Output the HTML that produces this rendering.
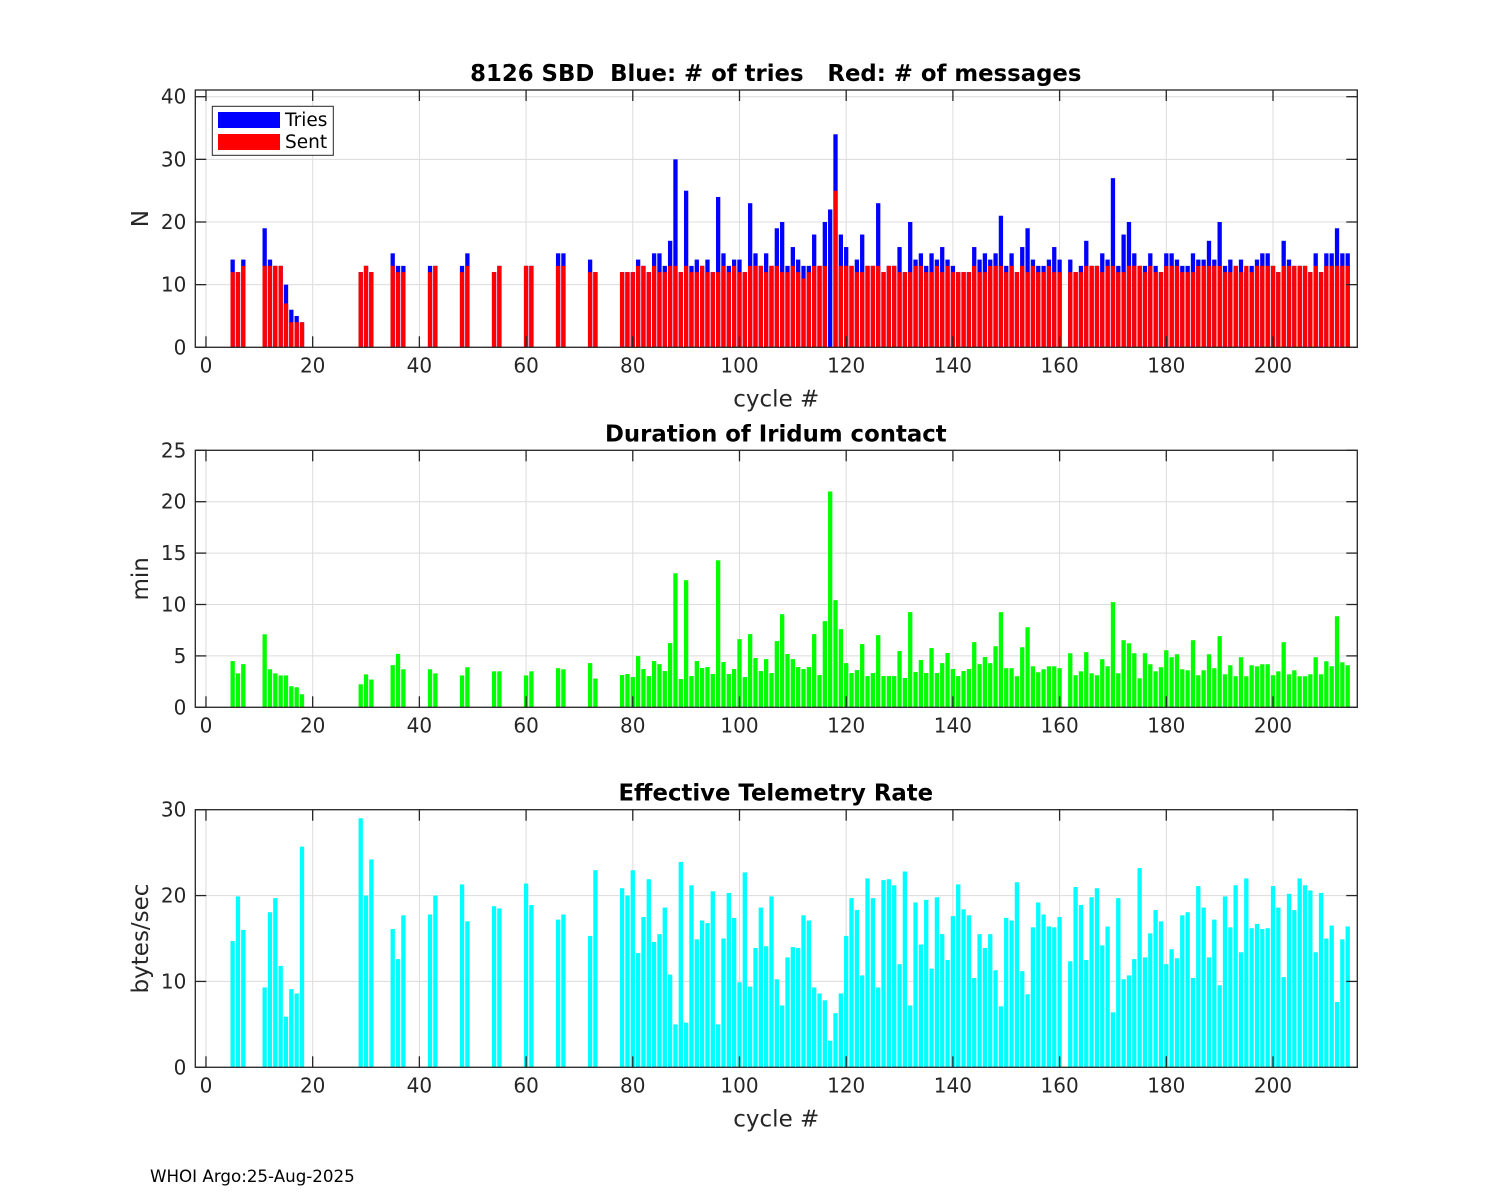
<!DOCTYPE html>
<html><head><meta charset="utf-8"><style>
body{margin:0;background:#fff;}
svg{display:block;font-family:"DejaVu Sans","Liberation Sans",sans-serif;}
text{white-space:pre;}
</style></head><body>
<svg id="chart" width="1500" height="1200" xmlns="http://www.w3.org/2000/svg" xml:space="preserve"></svg>
<script>
const cycles=[5,6,7,11,12,13,14,15,16,17,18,29,30,31,35,36,37,42,43,48,49,54,55,60,61,66,67,72,73,
78,79,80,81,82,83,84,85,86,87,88,89,90,91,92,93,94,95,96,97,98,99,100,101,102,103,104,105,106,107,108,109,110,111,112,113,114,115,116,117,118,119,120,121,122,123,124,125,126,127,128,129,130,131,132,133,134,135,136,137,138,139,140,141,142,143,144,145,146,147,148,149,150,151,152,153,154,155,156,157,158,159,160,
162,163,164,165,166,167,168,169,170,171,172,173,174,175,176,177,178,179,180,181,182,183,184,185,186,187,188,189,190,191,192,193,194,195,196,197,198,199,200,201,202,203,204,205,206,207,208,209,210,211,212,213,214];
const tries=[14,12,14,19,14,13,13,10,6,5,4,12,13,12,15,13,13,13,13,13,15,12,13,13,13,15,15,14,12,
12,12,12,14,13,12,15,15,13,17,30,12,25,13,14,13,14,12,24,15,13,14,14,12,23,15,13,15,13,19,20,13,16,14,13,13,18,13,20,22,34,18,16,13,14,18,13,13,23,12,13,13,16,12,20,14,15,13,15,14,16,14,13,12,12,12,16,14,15,14,15,21,13,15,12,16,19,14,13,13,14,16,14,
14,12,13,17,13,13,15,14,27,13,18,20,15,13,13,15,13,12,15,15,14,13,13,15,14,14,17,14,20,13,14,13,14,12,13,14,15,15,13,12,17,14,13,13,13,12,15,12,15,15,19,15,15];
const sent=[12,12,13,13,13,13,13,7,4,4,4,12,13,12,13,12,12,12,13,12,13,12,13,13,13,13,13,12,12,
12,12,12,13,13,12,13,12,12,13,13,12,13,12,12,13,12,12,12,13,12,13,12,12,13,13,13,12,13,13,12,12,13,12,11,12,13,13,13,0,25,13,13,13,12,12,13,13,13,12,13,13,12,12,12,13,13,12,12,13,12,13,12,12,12,12,13,12,12,13,13,13,12,13,12,13,12,13,12,12,13,12,12,
12,12,12,13,13,13,12,13,13,12,12,13,13,13,12,13,12,12,13,13,13,12,12,12,13,13,13,13,13,12,12,13,12,13,12,13,13,13,13,12,13,13,13,13,13,12,13,12,13,13,13,13,13];
const duration=[4.5,3.3,4.2,7.1,3.7,3.3,3.1,3.1,2.05,1.95,1.27,2.24,3.2,2.7,4.1,5.2,3.7,3.7,3.3,3.1,3.9,3.5,3.5,3.1,3.5,3.8,3.7,4.3,2.8,
3.14,3.24,2.94,4.98,3.72,3.04,4.5,4.2,3.53,6.25,13.04,2.75,12.36,3.04,4.5,3.82,3.92,3.24,14.3,4.4,3.24,3.72,6.63,2.94,7.12,4.79,3.53,4.69,3.33,6.44,9.06,5.18,4.69,3.92,3.72,3.92,7.12,3.14,8.38,21.0,10.42,7.6,4.3,3.33,3.62,6.15,3.04,3.33,7.02,3.04,3.04,3.04,5.47,2.85,9.26,3.43,4.6,3.33,5.76,3.33,4.3,5.28,3.72,3.04,3.53,3.72,6.34,4.2,4.89,4.3,5.94,9.25,3.8,3.8,3.02,5.84,7.79,3.99,3.41,3.7,3.99,3.99,3.8,
5.26,3.12,3.5,5.36,3.31,3.12,4.68,3.99,10.23,3.31,6.53,6.23,5.26,2.82,5.26,4.19,3.5,3.9,5.55,4.87,5.16,3.7,3.6,6.53,3.12,3.6,5.16,3.8,6.92,3.21,4.09,3.02,4.87,3.02,4.09,3.99,4.19,4.19,3.12,3.5,6.33,3.21,3.6,3.02,3.02,3.21,4.87,3.21,4.48,3.99,8.86,4.38,4.09];
const rate=[14.7,19.9,16.0,9.3,18.06,19.7,11.8,5.9,9.1,8.6,25.7,29.0,20.0,24.2,16.1,12.6,17.7,17.8,20.0,21.3,17.0,18.76,18.5,21.4,18.9,17.2,17.8,15.3,22.95,
20.85,20.0,22.95,13.3,17.5,21.9,14.6,15.5,18.6,10.8,5.0,23.9,5.2,21.2,14.9,17.1,16.8,20.5,5.0,15.0,20.3,17.4,9.9,22.7,9.4,13.9,18.6,14.1,19.9,10.25,7.2,12.8,14.0,13.9,17.7,17.1,9.3,8.6,7.8,3.1,6.3,8.6,15.3,19.7,18.3,10.7,22.0,19.7,9.3,21.8,21.9,21.2,12.0,22.8,7.2,19.2,14.3,19.5,11.5,19.8,15.5,12.5,17.6,21.3,18.4,17.7,10.4,15.5,13.9,15.5,11.3,7.1,17.4,17.1,21.55,11.2,8.5,16.3,19.2,17.8,16.4,16.3,17.5,
12.35,21.0,18.9,12.5,19.8,20.85,14.2,16.4,6.4,19.7,10.25,10.7,12.6,23.2,12.8,15.6,18.3,17.0,12.0,13.75,12.7,17.7,18.06,10.4,21.1,18.6,12.8,17.2,9.55,19.9,16.3,21.2,13.4,22.0,16.2,16.7,16.1,16.2,21.1,18.6,10.5,20.2,18.3,22.0,21.2,20.6,13.4,20.3,15.0,16.5,7.6,14.9,16.4];
const xTicks=[0,20,40,60,80,100,120,140,160,180,200];

const NS="http://www.w3.org/2000/svg";
const svg=document.getElementById('chart');
function mk(tag,attrs,parent,text){const e=document.createElementNS(NS,tag);for(const k in attrs)e.setAttribute(k,attrs[k]);if(text!==undefined)e.textContent=text;(parent||svg).appendChild(e);return e;}
const L=195.3,R=1357.3,XMIN=-2,XMAX=215.8;
function xs(v){return L+(v-XMIN)*(R-L)/(XMAX-XMIN);}
const BW=4.3;

function panel(key,top,bottom,ymax,yTicks,title,ylabel,showX){
  const g=mk('g',{});
  
  
  const ys=v=>bottom-v*(bottom-top)/ymax;
  mk('rect',{x:L,y:top,width:R-L,height:bottom-top,fill:'#fff'},g);
  const grid=mk('g',{stroke:'#dcdcdc','stroke-width':1},g);
  
  
  xTicks.forEach(t=>mk('line',{x1:xs(t),x2:xs(t),y1:top,y2:bottom},grid));
  yTicks.forEach(t=>mk('line',{x1:L,x2:R,y1:ys(t),y2:ys(t)},grid));
  return {g,ys,finish:function(){
    const ax=mk('g',{stroke:'#262626','stroke-width':1.3,fill:'none'},g);
    
    
    mk('rect',{x:L,y:top,width:R-L,height:bottom-top},ax);
    xTicks.forEach(t=>{mk('line',{x1:xs(t),x2:xs(t),y1:bottom,y2:bottom-11},ax);mk('line',{x1:xs(t),x2:xs(t),y1:top,y2:top+11},ax);});
    yTicks.forEach(t=>{mk('line',{x1:L,x2:L+11,y1:ys(t),y2:ys(t)},ax);mk('line',{x1:R,x2:R-11,y1:ys(t),y2:ys(t)},ax);});
    const xl=mk('g',{fill:'#262626','font-size':20,'text-anchor':'middle'},g);
    
    
    xTicks.forEach(t=>mk('text',{x:xs(t),y:bottom+25},xl,String(t)));
    const yl=mk('g',{fill:'#262626','font-size':20,'text-anchor':'end'},g);
    
    
    yTicks.forEach(t=>mk('text',{x:L-9,y:ys(t)+7},yl,String(t)));
    const tt=mk('text',{x:(L+R)/2-0.5,y:top-9,'font-size':22.8,'font-weight':'bold','text-anchor':'middle',fill:'#000'},g,title);
    
    
    const yt=mk('text',{x:0,y:0,'font-size':23,'text-anchor':'middle',fill:'#262626',transform:`translate(148,${(top+bottom)/2}) rotate(-90)`},g,ylabel);
    
    
    if(showX){const xt=mk('text',{x:(L+R)/2,y:bottom+59,'font-size':23,'text-anchor':'middle',fill:'#262626'},g,'cycle #');
      
      }
  }};
}

// Panel 1
const p1=panel('sbd',90,347.3,41.07,[0,10,20,30,40],'8126 SBD  Blue: # of tries   Red: # of messages','N',true);
cycles.forEach((c,i)=>{
  const b=mk('rect',{x:xs(c)-BW/2,y:p1.ys(tries[i]),width:BW,height:p1.ys(0)-p1.ys(tries[i]),fill:'#0000ff'},p1.g);
  
  
  if(sent[i]>0){const r=mk('rect',{x:xs(c)-BW/2,y:p1.ys(sent[i]),width:BW,height:p1.ys(0)-p1.ys(sent[i]),fill:'#ff0000'},p1.g);
  
  }
});
p1.finish();
const lg=mk('g',{});


mk('rect',{x:212.3,y:106.3,width:121,height:49,fill:'#fff',stroke:'#262626','stroke-width':1},lg);
mk('rect',{x:218,y:112,width:62,height:16,fill:'#0000ff'},lg);
mk('rect',{x:218,y:134,width:62,height:16,fill:'#ff0000'},lg);
const lt1=mk('text',{x:285,y:126,'font-size':18.5,fill:'#000'},lg,'Tries');


const lt2=mk('text',{x:285,y:148,'font-size':18.5,fill:'#000'},lg,'Sent');



// Panel 2
const p2=panel('duration',450.3,707.3,25,[0,5,10,15,20,25],'Duration of Iridum contact','min',false);
cycles.forEach((c,i)=>{
  const b=mk('rect',{x:xs(c)-BW/2,y:p2.ys(duration[i]),width:BW,height:p2.ys(0)-p2.ys(duration[i]),fill:'#00ff00'},p2.g);
  
  
});
p2.finish();

// Panel 3
const p3=panel('rate',809.7,1067.3,30,[0,10,20,30],'Effective Telemetry Rate','bytes/sec',true);
cycles.forEach((c,i)=>{
  const b=mk('rect',{x:xs(c)-BW/2,y:p3.ys(rate[i]),width:BW,height:p3.ys(0)-p3.ys(rate[i]),fill:'#00ffff'},p3.g);
  
  
});
p3.finish();

const ft=mk('text',{x:150,y:1182,'font-size':16.7,fill:'#000'},svg,'WHOI Argo:25-Aug-2025');


</script>
</body></html>
